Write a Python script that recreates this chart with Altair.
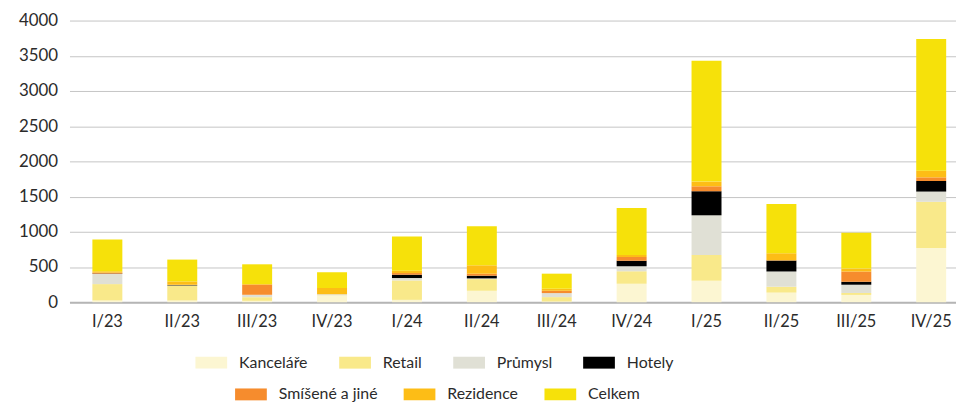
import altair as alt
import pandas as pd

quarters = ["I/23", "II/23", "III/23", "IV/23", "I/24", "II/24", "III/24", "IV/24",
            "I/25", "II/25", "III/25", "IV/25"]

kancelare = [24, 24, 19, 95, 33, 162, 10, 262, 305, 136, 103, 770]
retail = [233, 214, 52, 5, 276, 166, 62, 176, 366, 84, 28, 656]
prumysl = [143, 0, 34, 14, 34, 10, 57, 71, 563, 216, 117, 145]
hotely = [6, 6, 0, 0, 47, 38, 0, 81, 342, 155, 42, 150]
smisene = [14, 4, 143, 0, 24, 28, 33, 52, 70, 5, 145, 52]
rezidence = [19, 47, 10, 86, 33, 120, 29, 29, 67, 99, 42, 95]
celkem = [451, 310, 280, 224, 486, 556, 214, 667, 1717, 698, 508, 1871]

series_names = ["Kanceláře", "Retail", "Průmysl", "Hotely",
                "Smíšené a jiné", "Rezidence", "Celkem"]
series_values = [kancelare, retail, prumysl, hotely, smisene, rezidence, celkem]
series_colors = ["#FCF6D2", "#F9E98A", "#E0E0D5", "#000000",
                 "#F68C2D", "#FDBD16", "#F6E10A"]

rows = []
for si, (name, vals) in enumerate(zip(series_names, series_values)):
    for q, v in zip(quarters, vals):
        rows.append({"quarter": q, "series": name, "value": v, "order": si})
df = pd.DataFrame(rows)

g1, c1 = series_names[:4], series_colors[:4]
g2, c2 = series_names[4:], series_colors[4:]

symbol_path = "M-1,-0.375L1,-0.375L1,0.375L-1,0.375Z"

base = alt.Chart(df).transform_stack(
    stack="value", groupby=["quarter"], as_=["y0", "y1"],
    sort=[alt.SortField("order", order="ascending")]
)

x_enc = alt.X(
    "quarter:N", sort=quarters, title=None,
    scale=alt.Scale(paddingInner=0.6, paddingOuter=0.2185, align=0.7),
    axis=alt.Axis(labelAngle=0, ticks=False, domainColor="#B5B5B5", domainWidth=2,
                  labelPadding=12, labelFontSize=16.5, labelColor="#2b2b2b"),
)
y_scale = alt.Scale(domain=[0, 4000])
y_axis = alt.Axis(values=list(range(0, 4001, 500)), format="d", domain=False, ticks=False,
                  gridColor="#C4C4C4", gridWidth=1, labelPadding=12, labelFontSize=17,
                  labelColor="#2b2b2b", title=None)


def legend(x, y, cp):
    return alt.Legend(
        title=None, orient="none", legendX=x, legendY=y, direction="horizontal",
        symbolType=symbol_path, symbolSize=1024, symbolStrokeWidth=0, symbolOpacity=1,
        labelFontSize=16, labelColor="#2b2b2b", labelOffset=12, columnPadding=cp,
        padding=0,
    )


bars1 = base.transform_filter(
    alt.FieldOneOfPredicate(field="series", oneOf=g1)
).mark_bar().encode(
    x=x_enc,
    y=alt.Y("y0:Q", scale=y_scale, axis=y_axis),
    y2="y1:Q",
    color=alt.Color("series:N", scale=alt.Scale(domain=g1, range=c1), legend=legend(127, 329, 31)),
)

bars2 = base.transform_filter(
    alt.FieldOneOfPredicate(field="series", oneOf=g2)
).mark_bar().encode(
    x=x_enc,
    y=alt.Y("y0:Q", scale=y_scale, axis=y_axis),
    y2="y1:Q",
    color=alt.Color("series:N", scale=alt.Scale(domain=g2, range=c2), legend=legend(167, 361, 26)),
)

chart = alt.layer(bars1, bars2).resolve_scale(color="independent").properties(
    width=894, height=284,
    autosize=alt.AutoSizeParams(type="none"),
    padding={"left": 62, "top": 11, "right": 0, "bottom": 100},
).configure(font="Lato").configure_view(stroke=None)

chart.save("out.html", embed_options={"renderer": "svg", "actions": False})
